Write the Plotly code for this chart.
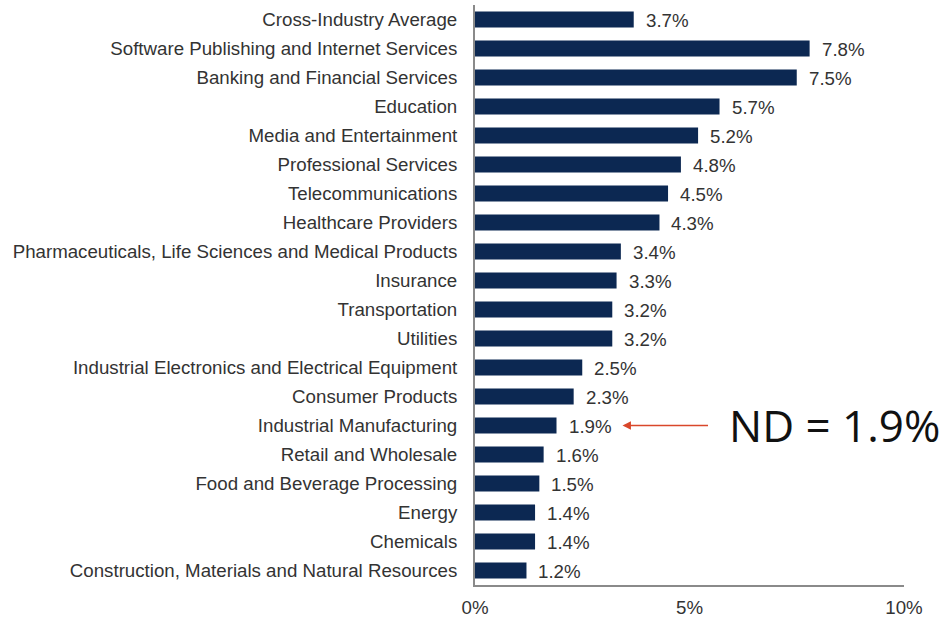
import plotly.graph_objects as go

industries = [
    "Cross-Industry Average",
    "Software Publishing and Internet Services",
    "Banking and Financial Services",
    "Education",
    "Media and Entertainment",
    "Professional Services",
    "Telecommunications",
    "Healthcare Providers",
    "Pharmaceuticals, Life Sciences and Medical Products",
    "Insurance",
    "Transportation",
    "Utilities",
    "Industrial Electronics and Electrical Equipment",
    "Consumer Products",
    "Industrial Manufacturing",
    "Retail and Wholesale",
    "Food and Beverage Processing",
    "Energy",
    "Chemicals",
    "Construction, Materials and Natural Resources",
]
it_spend_pct = [3.7, 7.8, 7.5, 5.7, 5.2, 4.8, 4.5, 4.3, 3.4, 3.3,
                3.2, 3.2, 2.5, 2.3, 1.9, 1.6, 1.5, 1.4, 1.4, 1.2]
x_ticks = [0, 5, 10]
x_tick_labels = ["0%", "5%", "10%"]

highlight_industry = "Industrial Manufacturing"
highlight_text = "ND = 1.9%"

bar_color = "#0c2852"
text_color = "#333333"
font_family = "Liberation Sans, Arial, sans-serif"
label_size = 18.7

fig = go.Figure(
    go.Bar(
        x=it_spend_pct,
        y=industries,
        orientation="h",
        marker=dict(color=bar_color, line=dict(width=0)),
        hoverinfo="skip",
    )
)

# value labels to the right of each bar
for name, val in zip(industries, it_spend_pct):
    fig.add_annotation(
        x=val, y=name, text=f"{val:.1f}%", showarrow=False,
        xanchor="left", yanchor="middle", xshift=10, yshift=-1,
        font=dict(family=font_family, size=label_size, color=text_color),
    )

# callout arrow pointing at the highlighted bar's label
hl_val = it_spend_pct[industries.index(highlight_industry)]
fig.add_annotation(
    x=hl_val, y=highlight_industry, ax=87, ay=0,
    xref="x", yref="y",
    text="", showarrow=True, arrowhead=2, arrowsize=1.3, arrowwidth=1.3,
    arrowcolor="#d9472b", standoff=0, xshift=66,
)
fig.add_annotation(
    x=hl_val, y=highlight_industry, text=highlight_text, showarrow=False,
    xanchor="left", yanchor="middle", xshift=170, yshift=1,
    font=dict(family="Open Sans, Noto Sans, sans-serif", size=44, color="#111111"),
)

fig.update_layout(
    width=943, height=618,
    margin=dict(l=475, r=39, t=5, b=33),
    paper_bgcolor="white", plot_bgcolor="white",
    bargap=0.44,
    showlegend=False,
    font=dict(family=font_family, size=label_size, color=text_color),
    xaxis=dict(
        range=[0, 10], tickvals=x_ticks, ticktext=x_tick_labels,
        showgrid=False, zeroline=False, showline=True, automargin=False,
        linecolor="#8a8a8a", linewidth=2, ticks="", ticklabelstandoff=5,
        tickfont=dict(size=label_size, color=text_color),
    ),
    yaxis=dict(
        autorange="reversed", showgrid=False, zeroline=False, automargin=False,
        showline=True, linecolor="#8a8a8a", linewidth=2, ticks="",
        ticklabelstandoff=12,
        tickfont=dict(size=label_size, color=text_color),
    ),
)

fig.write_html("out.html")
